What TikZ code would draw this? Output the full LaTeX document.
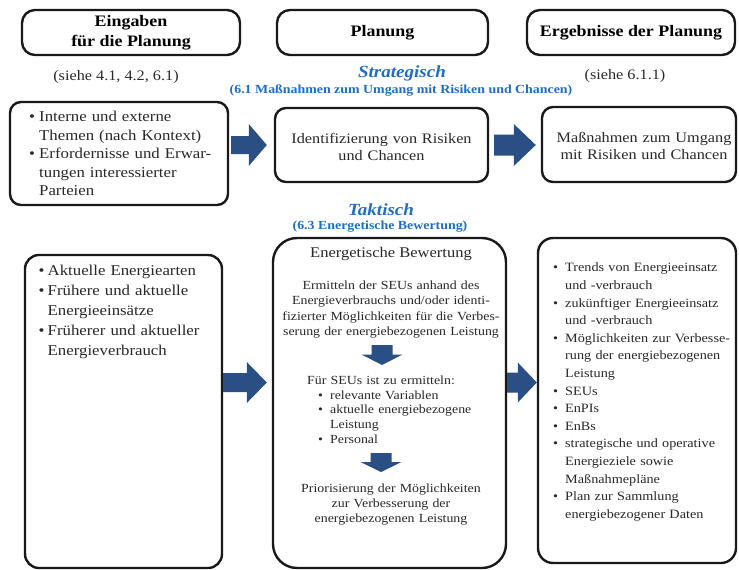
\documentclass[tikz,border=0pt]{standalone}
\usepackage{fontspec}
\setmainfont{Liberation Serif}[FakeStretch=1.12]
\usetikzlibrary{calc}
\definecolor{arrowblue}{RGB}{42,79,133}
\definecolor{titleblue}{RGB}{31,110,196}
\definecolor{bodygray}{RGB}{40,40,40}
\definecolor{linegray}{RGB}{25,25,25}
\setlength\parskip{0pt}
\newcommand\firstl{\rule{0pt}{1em}}
% bullet item: #1 indent of text, #2 text
\newcommand\bitem[2]{{\leftskip=#1\noindent\llap{\makebox[#1][l]{\textbullet}}#2\par}}
\newcommand\sitem[1]{{\leftskip=23pt\noindent\llap{\makebox[12pt][l]{\textbullet}}#1\par}}
% block arrows: tail, tip, shaft half width, head half width, head length
\newcommand\harrow[5]{\fill[arrowblue] let \p1=(#1), \p2=(#2) in
  (\x1,{\y1+#3}) -- ({\x2-#5},{\y1+#3}) -- ({\x2-#5},{\y1+#4}) -- (\x2,\y1)
  -- ({\x2-#5},{\y1-#4}) -- ({\x2-#5},{\y1-#3}) -- (\x1,{\y1-#3}) -- cycle;}
\newcommand\varrow[5]{\fill[arrowblue] let \p1=(#1), \p2=(#2) in
  ({\x1-#3},\y1) -- ({\x1-#3},{\y2+#5}) -- ({\x1-#4},{\y2+#5}) -- (\x1,\y2)
  -- ({\x1+#4},{\y2+#5}) -- ({\x1+#3},{\y2+#5}) -- ({\x1+#3},\y1) -- cycle;}
\tikzset{
  box/.style={draw=linegray, line width=2.4pt, fill=white, inner sep=0pt},
  hdr/.style={font=\fontsize{16}{20}\selectfont\bfseries, align=center, text=black, inner sep=0pt},
  note/.style={font=\fontsize{14.5}{17}\selectfont, text=bodygray, inner sep=0pt},
  cat/.style={font=\fontsize{17}{20}\selectfont\bfseries\itshape, text=titleblue, inner sep=0pt},
  sub/.style={font=\fontsize{12.4}{15}\selectfont\bfseries, text=titleblue, inner sep=0pt},
  txt/.style={text=bodygray, inner sep=0pt}
}
\begin{document}
\begin{tikzpicture}[x=1pt,y=-1pt]
\useasboundingbox (0,0) rectangle (739,570);
% header boxes
\node[box, rounded corners=13pt, minimum width=218, minimum height=45] (h1) at (131,32.5) {};
\node[box, rounded corners=13pt, minimum width=211, minimum height=45] (h2) at (382.5,32.5) {};
\node[box, rounded corners=13pt, minimum width=208, minimum height=45] (h3) at (631,32.5) {};
\node[hdr] (h1t) at ($(h1.center)+(0,0.5)$) {Eingaben\\für die Planung};
\node[hdr] (h2t) at (h2.center) {Planung};
\node[hdr] (h3t) at (h3.center) {Ergebnisse der Planung};
\node[note] (s1) at (116,77) {(siehe 4.1, 4.2, 6.1)};
\node[note] (s2) at (625,76) {(siehe 6.1.1)};
\node[cat] (strat) at (402,73) {Strategisch};
\node[sub] (stratsub) at (401,91) {(6.1 Maßnahmen zum Umgang mit Risiken und Chancen)};
% row 2
\node[box, rounded corners=11pt, minimum width=218, minimum height=103] (l2) at (119,153.5) {};
\node[box, rounded corners=11pt, minimum width=213, minimum height=74] (m2) at (381.5,145) {};
\node[box, rounded corners=11pt, minimum width=194, minimum height=75] (r2) at (639,144.5) {};
\coordinate (a1s) at ($(l2.east |- m2.west)+(2,0)$);
\coordinate (a1e) at ($(m2.west)+(-7,0)$);
\harrow{a1s}{a1e}{9pt}{21pt}{18pt}
\coordinate (a2s) at ($(m2.east)+(5,0)$);
\coordinate (a2e) at ($(r2.west |- m2.east)+(-5,0)$);
\harrow{a2s}{a2e}{10.5pt}{21pt}{22pt}
\node[txt, font=\fontsize{15}{18.5}\selectfont, text width=198, align=left, anchor=north west] (l2t) at (29,106.5)
  {\bitem{10pt}{\firstl Interne und externe\newline Themen (nach Kontext)}\bitem{10pt}{Erfordernisse und Erwar-\newline tungen interessierter\newline Parteien}};
\node[txt, font=\fontsize{14.5}{17}\selectfont, text width=210, align=center, anchor=north] (m2t) at (381.5,128.5)
  {\firstl Identifizierung von Risiken\\und Chancen};
\node[txt, font=\fontsize{14.5}{17}\selectfont, text width=194, align=center, anchor=north] (r2t) at (644,128)
  {\firstl Maßnahmen zum Umgang\\mit Risiken und Chancen};
% Taktisch
\node[cat] (takt) at (381,210) {Taktisch};
\node[sub] (taktsub) at (380,227) {(6.3 Energetische Bewertung)};
% row 3
\node[box, rounded corners=14pt, minimum width=197, minimum height=313] (l3) at (123.5,411.5) {};
\node[box, rounded corners=24pt, minimum width=233, minimum height=330] (m3) at (389.5,403) {};
\node[box, rounded corners=15pt, minimum width=198, minimum height=325] (r3) at (637,400.5) {};
\coordinate (a3s) at ($(l3.east)+(0,-29)$);
\coordinate (a3e) at ($(m3.west)+(-5,-20.5)$);
\harrow{a3s}{a3e}{9.5pt}{20.5pt}{20pt}
\coordinate (a4s) at ($(m3.east)+(0,-20.5)$);
\coordinate (a4e) at ($(r3.west)+(0,-18)$);
\harrow{a4s}{a4e}{10pt}{20pt}{19pt}
\coordinate (d1s) at (382,345);
\coordinate (d1e) at (382,365);
\varrow{d1s}{d1e}{10.5pt}{20.5pt}{10.5pt}
\coordinate (d2s) at (381,453);
\coordinate (d2e) at (381,472);
\varrow{d2s}{d2e}{10.5pt}{20.5pt}{10pt}
\node[txt, font=\fontsize{15}{20}\selectfont, text width=180, align=left, anchor=north west] (l3t) at (38.5,260.5)
  {\bitem{9pt}{\firstl Aktuelle Energiearten}\bitem{9pt}{Frühere und aktuelle\newline Energieeinsätze}\bitem{9pt}{Früherer und aktueller\newline Energieverbrauch}};
\node[txt, font=\fontsize{14.75}{17}\selectfont] (m3title) at (391,254) {Energetische Bewertung};
\node[txt, font=\fontsize{12.4}{15.2}\selectfont, text width=225, align=center, anchor=north] (m3p1) at (391,277)
  {\firstl Ermitteln der SEUs anhand des\\Energieverbrauchs und/oder identi-\\fizierter Möglichkeiten für die Verbes-\\serung der energiebezogenen Leistung};
\node[txt, font=\fontsize{12.4}{14.8}\selectfont, text width=190, align=left, anchor=north west] (m3p2) at (307,371.6)
  {\firstl Für SEUs ist zu ermitteln:\par\sitem{relevante Variablen}\sitem{aktuelle energiebezogene\newline Leistung}\sitem{Personal}};
\node[txt, font=\fontsize{12.4}{15.3}\selectfont, text width=225, align=center, anchor=north] (m3p3) at (391,479.6)
  {\firstl Priorisierung der Möglichkeiten\\zur Verbesserung der\\energiebezogenen Leistung};
\node[txt, font=\fontsize{12.7}{17.6}\selectfont, text width=184, align=left, anchor=north west] (r3t) at (553,259)
  {\bitem{12pt}{\firstl Trends von Energieeinsatz\newline und -verbrauch}\bitem{12pt}{zukünftiger Energieeinsatz\newline und -verbrauch}\bitem{12pt}{Möglichkeiten zur Verbesse-\newline rung der energiebezogenen\newline Leistung}\bitem{12pt}{SEUs}\bitem{12pt}{EnPIs}\bitem{12pt}{EnBs}\bitem{12pt}{strategische und operative\newline Energieziele sowie\newline Maßnahmepläne}\bitem{12pt}{Plan zur Sammlung\newline energiebezogener Daten}};
\end{tikzpicture}
\end{document}
